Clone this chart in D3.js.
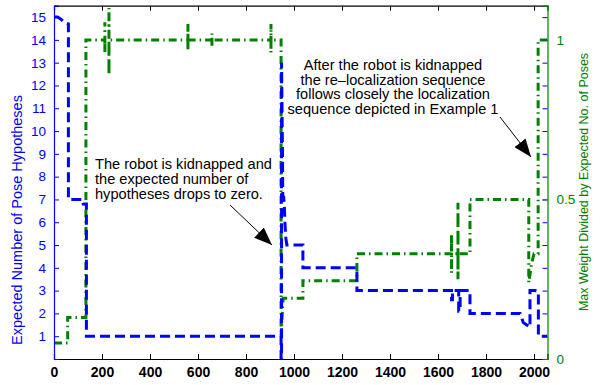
<!DOCTYPE html>
<html>
<head>
<meta charset="utf-8">
<script src="https://cdn.jsdelivr.net/npm/d3@7"></script>
<style>
  html, body { margin: 0; padding: 0; background: #fff; }
  svg { display: block; font-family: "Liberation Sans", Arial, Helvetica, sans-serif; }
</style>
</head>
<body>
<svg id="chart" width="605" height="385"></svg>
<script>
// ---- data ----
const xTicks = [0, 200, 400, 600, 800, 1000, 1200, 1400, 1600, 1800, 2000];
const leftTicks = [1, 2, 3, 4, 5, 6, 7, 8, 9, 10, 11, 12, 13, 14, 15];
const rightTicks = [0, 0.5, 1];

// Expected number of pose hypotheses (left axis)
const blueX = [0, 15, 30, 45, 60, 60, 120, 122, 135, 135, 946, 946, 948, 948, 950, 952, 953, 957, 960, 962, 966, 970, 1037, 1037, 1262, 1262, 1656, 1656, 1660, 1660, 1686, 1686, 1692, 1692, 1733, 1733, 1942, 1955, 1983, 1983, 2005, 2018, 2018, 2056];
const blueY = [15, 15, 14.9, 14.75, 14.7, 7, 7, 6.8, 6.8, 1, 1, 0, 0, 13, 11, 9, 7.2, 7.1, 6.6, 6, 5.3, 5, 5, 4, 4, 3, 3, 2.6, 2.6, 3, 3, 2.1, 2.1, 3, 3, 2, 2, 1.6, 1.4, 3, 3, 2.95, 1, 1];

// Max weight divided by expected no. of poses (right axis)
const greenX = [0, 57, 57, 133, 133, 212, 212, 212, 212, 229, 229, 229, 229, 558, 558, 558, 558, 658, 658, 658, 658, 904, 904, 904, 904, 946, 946, 950, 955, 1037, 1037, 1262, 1262, 1656, 1656, 1656, 1656, 1683, 1683, 1683, 1683, 1733, 1733, 1978, 1978, 1990, 2000, 2017, 2017, 2056];
const greenY = [0.05, 0.05, 0.13, 0.13, 1.0, 1.0, 1.055, 0.96, 1.0, 1.0, 1.10, 0.89, 1.0, 1.0, 1.05, 0.97, 1.0, 1.0, 1.02, 0.98, 1.0, 1.0, 1.05, 0.96, 1.0, 1.0, 0.07, 0.13, 0.19, 0.19, 0.245, 0.245, 0.33, 0.33, 0.39, 0.27, 0.33, 0.33, 0.49, 0.25, 0.33, 0.33, 0.5, 0.5, 0.24, 0.3, 0.33, 0.33, 1.0, 1.0];

const leftTitle = "Expected Number of Pose Hypotheses";
const rightTitle = "Max Weight Divided by Expected No. of Poses";
const note1 = ["The robot is kidnapped and", "the expected number of", "hypotheses drops to zero."];
const note2 = ["After the robot is kidnapped", "the re\u2013localization sequence", "follows closely the localization", "sequence depicted in Example 1"];

// ---- layout ----
const L = 54, R = 547.5, T = 5.7, B = 359;
const BLUE = "#0000ff", GREEN = "#008000";

const svg = d3.select("#chart");
const x = d3.scaleLinear().domain([0, 2056]).range([L, R]);
const yL = d3.scaleLinear().domain([0, 15.5]).range([B, T]);
const yR = d3.scaleLinear().domain([0, 15.5 / 14]).range([B, T]);

const defs = svg.append("defs");
defs.append("clipPath").attr("id", "clip").append("rect")
  .attr("x", L).attr("y", T).attr("width", R - L).attr("height", B - T);
defs.append("marker").attr("id", "arrow")
  .attr("viewBox", "0 0 18 14").attr("refX", 18).attr("refY", 7)
  .attr("markerWidth", 18).attr("markerHeight", 14)
  .attr("markerUnits", "userSpaceOnUse").attr("orient", "auto")
  .append("path").attr("d", "M0,0 L18,7 L0,14 Z").attr("fill", "#000");

// lines
const blueData = blueX.map((v, i) => [v, blueY[i]]);
const greenData = greenX.map((v, i) => [v, greenY[i]]);
const gLines = svg.append("g").attr("clip-path", "url(#clip)");
gLines.append("path").datum(greenData)
  .attr("d", d3.line().x(d => x(d[0])).y(d => yR(d[1])))
  .attr("fill", "none").attr("stroke", GREEN).attr("stroke-width", 3)
  .attr("stroke-dasharray", "8,4,1.5,4");
gLines.append("path").datum(blueData)
  .attr("d", d3.line().x(d => x(d[0])).y(d => yL(d[1])))
  .attr("fill", "none").attr("stroke", BLUE).attr("stroke-width", 3)
  .attr("stroke-dasharray", "10,5");

// axes
const axB = svg.append("g").attr("transform", `translate(0,${B})`)
  .call(d3.axisBottom(x).tickValues(xTicks).tickSize(-5).tickPadding(8).tickFormat(d3.format("d")));
axB.select(".domain").attr("stroke", "#000").attr("stroke-width", 1.2);
axB.selectAll("line").attr("stroke", "#000");
axB.selectAll("text").attr("font-size", 14).attr("font-weight", "bold").attr("fill", "#000")
  .attr("font-family", "Liberation Sans, Arial, sans-serif");

const axT = svg.append("g").attr("transform", `translate(0,${T})`)
  .call(d3.axisTop(x).tickValues(xTicks).tickSize(-5).tickFormat(""));
axT.select(".domain").attr("stroke", "#000").attr("stroke-width", 1.2);
axT.selectAll("line").attr("stroke", "#000");

const axL = svg.append("g").attr("transform", `translate(${L},0)`)
  .call(d3.axisLeft(yL).tickValues(leftTicks).tickSize(-5).tickPadding(8).tickFormat(d3.format("d")));
axL.select(".domain").attr("stroke", BLUE).attr("stroke-width", 1.2);
axL.selectAll("line").attr("stroke", BLUE);
axL.selectAll("text").attr("font-size", 13.5).attr("fill", BLUE)
  .attr("font-family", "Liberation Sans, Arial, sans-serif");

const axRM = svg.append("g").attr("transform", `translate(${R},0)`)
  .call(d3.axisRight(yL).tickValues(leftTicks).tickSize(-5).tickFormat(""));
axRM.select(".domain").remove();
axRM.selectAll("line").attr("stroke", BLUE);

const axR = svg.append("g").attr("transform", `translate(${R},0)`)
  .call(d3.axisRight(yR).tickValues(rightTicks).tickSize(-5).tickPadding(9).tickFormat(d3.format("")));
axR.select(".domain").attr("stroke", GREEN).attr("stroke-width", 1.2);
axR.selectAll("line").attr("stroke", GREEN);
axR.selectAll("text").attr("font-size", 13.5).attr("fill", GREEN)
  .attr("font-family", "Liberation Sans, Arial, sans-serif");

// axis titles
svg.append("text").text(leftTitle)
  .attr("transform", "translate(22,220) rotate(-90)")
  .attr("text-anchor", "middle").attr("font-size", 14.5).attr("fill", BLUE);
svg.append("text").text(rightTitle)
  .attr("transform", "translate(588,182) rotate(-90)")
  .attr("text-anchor", "middle").attr("font-size", 12.5).attr("fill", GREEN);

// annotations
const n1 = svg.append("text").attr("font-size", 14.6).attr("fill", "#000");
note1.forEach((s, i) => n1.append("tspan").attr("x", 95).attr("y", 169 + i * 15).text(s));
const n2 = svg.append("text").attr("font-size", 14.6).attr("fill", "#000").attr("text-anchor", "middle");
note2.forEach((s, i) => n2.append("tspan").attr("x", 393).attr("y", 70 + i * 14.6).text(s));

svg.append("line").attr("x1", 230).attr("y1", 205).attr("x2", 272).attr("y2", 245)
  .attr("stroke", "#000").attr("stroke-width", 1).attr("marker-end", "url(#arrow)");
svg.append("line").attr("x1", 500).attr("y1", 117).attr("x2", 531).attr("y2", 157)
  .attr("stroke", "#000").attr("stroke-width", 1).attr("marker-end", "url(#arrow)");
</script>
</body>
</html>
